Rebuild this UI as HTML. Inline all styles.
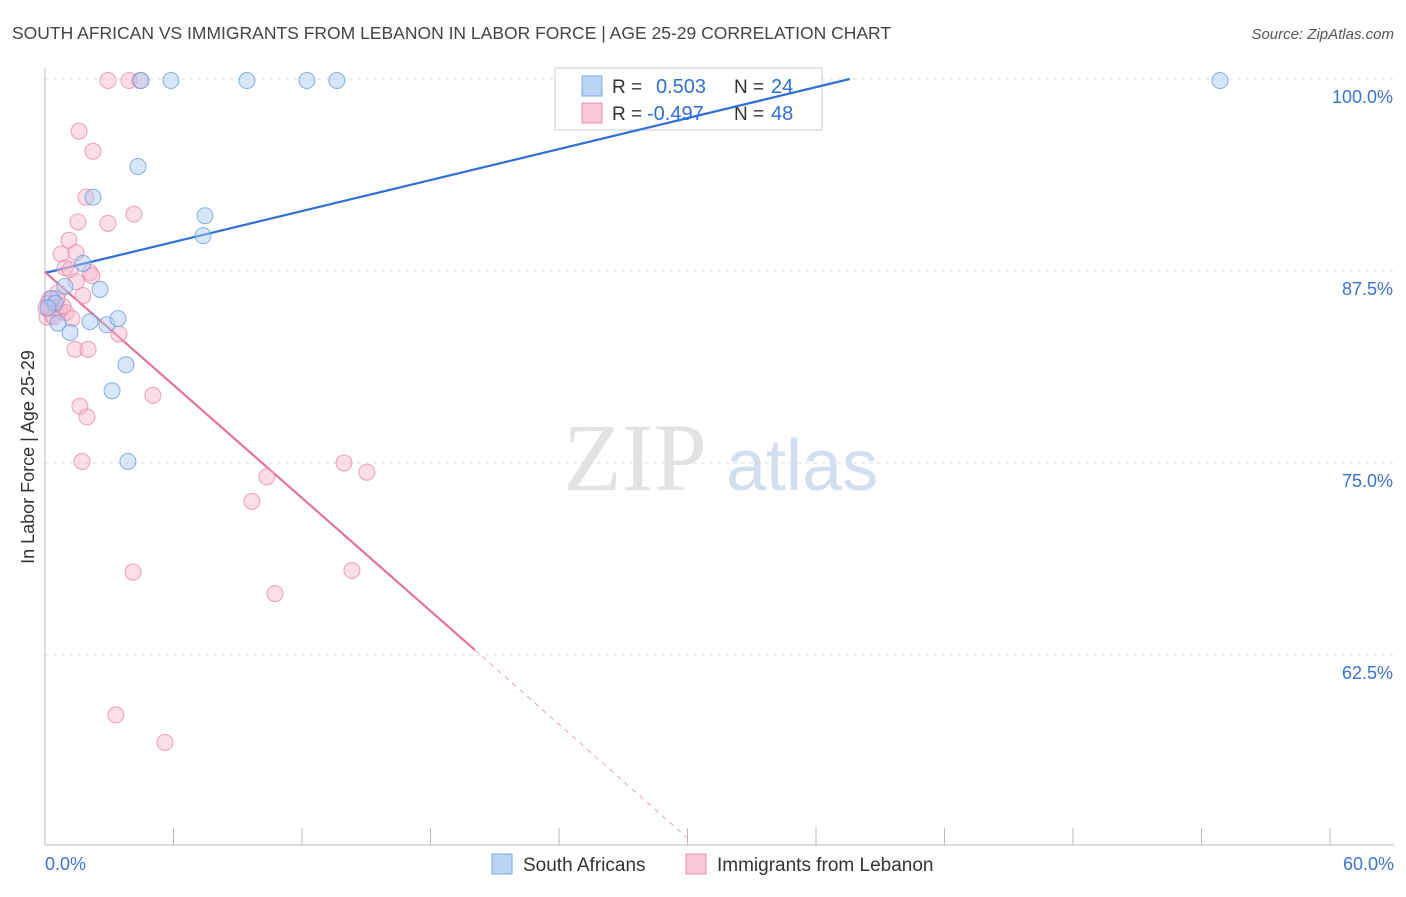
<!DOCTYPE html>
<html><head><meta charset="utf-8"><style>
body{margin:0;background:#fff;font-family:"Liberation Sans",sans-serif;}
</style></head><body>
<svg id="chart" width="1406" height="892" viewBox="0 0 1406 892" xmlns="http://www.w3.org/2000/svg" font-family="Liberation Sans, sans-serif">
<text x="12" y="39" font-size="17.5" fill="#444">SOUTH AFRICAN VS IMMIGRANTS FROM LEBANON IN LABOR FORCE | AGE 25-29 CORRELATION CHART</text>
<text x="1394" y="39" font-size="15" fill="#555" text-anchor="end" font-style="italic">Source: ZipAtlas.com</text>
<text transform="translate(34,457) rotate(-90)" font-size="18" fill="#333" text-anchor="middle">In Labor Force | Age 25-29</text>
<g><text x="635" y="490" font-size="96" fill="#e2e2e2" text-anchor="middle" font-family="Liberation Serif, serif">ZIP</text><text x="802" y="490" font-size="72" fill="#d2dff1" text-anchor="middle">atlas</text></g>
<g id="grid"></g><g id="axes"></g>
<g>
<rect x="555" y="68" width="267" height="62" fill="#fff" stroke="#ccc"/>
<rect x="582" y="76" width="20" height="20" fill="#b9d3f5" stroke="#7aa8e6"/>
<text x="612" y="93" font-size="19" fill="#333">R = </text><text x="656" y="93" font-size="20" fill="#2f6fd6">0.503</text>
<text x="734" y="93" font-size="19" fill="#333">N = </text><text x="771" y="93" font-size="20" fill="#2f6fd6">24</text>
<rect x="582" y="103" width="20" height="20" fill="#f9c6d6" stroke="#ec92b0"/>
<text x="612" y="120" font-size="19" fill="#333">R = </text><text x="647" y="120" font-size="20" fill="#2f6fd6">-0.497</text>
<text x="734" y="120" font-size="19" fill="#333">N = </text><text x="771" y="120" font-size="20" fill="#2f6fd6">48</text>
</g>
<g id="lines"></g><g id="pts"></g>
<g>
<rect x="492" y="854" width="20" height="20" fill="#b9d3f5" stroke="#7aa8e6"/>
<text x="523" y="871" font-size="19" fill="#333">South Africans</text>
<rect x="686" y="854" width="20" height="20" fill="#f9c6d6" stroke="#ec92b0"/>
<text x="717" y="871" font-size="19" fill="#333">Immigrants from Lebanon</text>
</g>
</svg>
<script>
const yTicks=[100,87.5,75,62.5];
const yTickLabels=["100.0%","87.5%","75.0%","62.5%"];
const xTicks=[0,6,12,18,24,30,36,42,48,54,60];
const blueX=[4.49,5.88,9.43,12.23,13.63,54.86,4.34,2.24,7.47,7.38,1.77,0.93,2.57,0.33,0.61,1.17,2.1,2.89,3.41,3.78,3.13,3.87,0.47,0.14];
const blueY=[99.9,99.9,99.9,99.9,99.9,99.9,94.3,92.3,91.1,89.8,88,86.5,86.3,85.7,84.1,83.5,84.2,84,84.4,81.4,79.7,75.1,85.4,85.1];
const pinkX=[2.94,3.92,4.43,1.59,2.24,1.91,4.15,1.54,2.94,1.12,1.45,0.75,0.93,1.17,2.1,2.19,1.45,0.61,1.77,0.23,0.14,0.47,0.7,0.98,1.26,0.09,0.33,3.45,1.4,2.01,5.04,1.63,1.96,1.73,13.96,15.03,10.36,9.66,4.11,14.33,10.74,3.31,5.6,0.28,0.42,0.84,0.05,0.56];
const pinkY=[99.9,99.9,99.9,96.6,95.3,92.3,91.2,90.7,90.6,89.5,88.7,88.6,87.7,87.6,87.4,87.2,86.8,86.1,85.9,85.7,85.4,85,84.9,84.8,84.4,84.5,84.6,83.4,82.4,82.4,79.4,78.7,78,75.1,75,74.4,74.1,72.5,67.9,68,66.5,58.6,56.8,85.1,84.5,85.2,85.1,85.7];
const blueLine=[[0,87.37],[37.58,100]];
const pinkSolid=[[0,87.43],[20.07,62.83]];
const pinkDash=[[20.07,62.83],[30.1,50.46]];
const X=v=>45+v*21.417, Y=v=>79+(100-v)*15.36;
const NS="http://www.w3.org/2000/svg";
function mk(p,t,a){const e=document.createElementNS(NS,t);for(const k in a)e.setAttribute(k,a[k]);document.getElementById(p).appendChild(e);return e;}
yTicks.forEach((t,i)=>{
 const g=mk('grid','line',{x1:45,x2:1394,y1:Y(t),y2:Y(t),stroke:'#ddd','stroke-dasharray':'4,4'});
 
 
 const l=mk('grid','text',{x:1393,y:Y(t)+24,'font-size':18,fill:'#3b73d1','text-anchor':'end'});
 l.textContent=yTickLabels[i];
 
 
});
const ax=mk('axes','line',{x1:45,x2:45,y1:68,y2:845,stroke:'#bbb'});


const bx=mk('axes','line',{x1:45,x2:1394,y1:845,y2:845,stroke:'#bbb'});


xTicks.forEach(t=>{
 const e=mk('axes','line',{x1:X(t),x2:X(t),y1:828,y2:845,stroke:'#bbb'});
 
 
});
[[0,'0.0%','start',45],[60,'60.0%','end',1394]].forEach(a=>{
 const e=mk('axes','text',{x:a[3],y:870,'font-size':18,fill:'#3b73d1','text-anchor':a[2]});
 e.textContent=a[1];
 
 
});
function ln(d,c,dash,name){const e=mk('lines','line',{x1:X(d[0][0]),y1:Y(d[0][1]),x2:X(d[1][0]),y2:Y(d[1][1]),stroke:c,'stroke-width':dash?1:2.2,'stroke-dasharray':dash?'5,5':'none'});
 
 }
ln(blueLine,'#2f6fd6',false,'blue-trend-line');
ln(pinkSolid,'#e8709a',false,'pink-trend-line');
ln(pinkDash,'#e8a0b8',true,'pink-trend-extension');
function pts(xs,ys,f,s,name){xs.forEach((x,i)=>{const e=mk('pts','circle',{cx:X(x),cy:Y(ys[i]),r:8,fill:f,'fill-opacity':0.45,stroke:s,'stroke-width':1,'stroke-opacity':0.8});
 
 });}
pts(pinkX,pinkY,'#f6b6ca','#e88aab','lebanon-point');
pts(blueX,blueY,'#a9c8f2','#6a9de0','south-african-point');
</script>
</body></html>
